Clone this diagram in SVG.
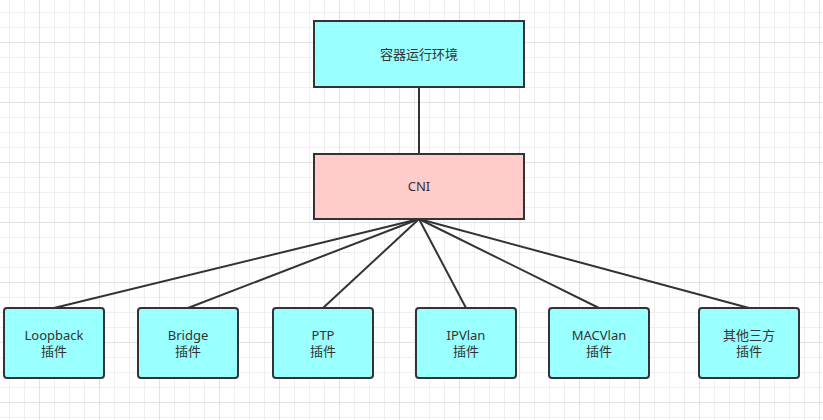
<svg xmlns="http://www.w3.org/2000/svg" width="823" height="420" viewBox="0 0 823 420">
<defs>
<pattern id="minor" patternUnits="userSpaceOnUse" x="9" y="12" width="15" height="15">
<path d="M0.5 0V15M0 0.5H15" stroke="#efefef" stroke-width="1" fill="none"/>
</pattern>
<pattern id="major" patternUnits="userSpaceOnUse" x="39" y="42" width="60" height="60">
<path d="M0.5 0V60M0 0.5H60" stroke="#e2e2e2" stroke-width="1" fill="none"/>
</pattern>
</defs>
<style>
.box{stroke:#333;stroke-width:2}
.cyan{fill:#99ffff}
.pink{fill:#ffcccc}
.conn{stroke:#333;stroke-width:2;fill:none}
text{font-family:"Noto Sans","Noto Sans CJK SC",sans-serif;font-size:13px;fill:#333;text-anchor:middle}
</style>
<rect width="823" height="420" fill="#ffffff"/>
<rect width="823" height="420" fill="url(#minor)"/>
<rect width="823" height="420" fill="url(#major)"/>
<g id="connectors">
<path class="conn" d="M419 87V154"/>
<path class="conn" d="M419 219L54 308"/>
<path class="conn" d="M419 219L188 308"/>
<path class="conn" d="M419 219L323 308"/>
<path class="conn" d="M419 219L466 308"/>
<path class="conn" d="M419 219L599 308"/>
<path class="conn" d="M419 219L749 308"/>
</g>
<g id="runtime">
<rect class="box cyan" x="314" y="21" width="210" height="66"/>
<text x="419" y="58.5">容器运行环境</text>
</g>
<g id="cni">
<rect class="box pink" x="314" y="154" width="210" height="65"/>
<text x="419" y="191">CNI</text>
</g>
<g id="loopback">
<rect class="box cyan" x="4" y="308" width="100" height="70" rx="3"/>
<text x="54" y="340">Loopback</text>
<text x="54" y="356">插件</text>
</g>
<g id="bridge">
<rect class="box cyan" x="138" y="308" width="100" height="70" rx="3"/>
<text x="188" y="340">Bridge</text>
<text x="188" y="356">插件</text>
</g>
<g id="ptp">
<rect class="box cyan" x="273" y="308" width="100" height="70" rx="3"/>
<text x="323" y="340">PTP</text>
<text x="323" y="356">插件</text>
</g>
<g id="ipvlan">
<rect class="box cyan" x="416" y="308" width="100" height="70" rx="3"/>
<text x="466" y="340">IPVlan</text>
<text x="466" y="356">插件</text>
</g>
<g id="macvlan">
<rect class="box cyan" x="549" y="308" width="100" height="70" rx="3"/>
<text x="599" y="340">MACVlan</text>
<text x="599" y="356">插件</text>
</g>
<g id="other">
<rect class="box cyan" x="699" y="308" width="100" height="70" rx="3"/>
<text x="749" y="340">其他三方</text>
<text x="749" y="356">插件</text>
</g>
</svg>
